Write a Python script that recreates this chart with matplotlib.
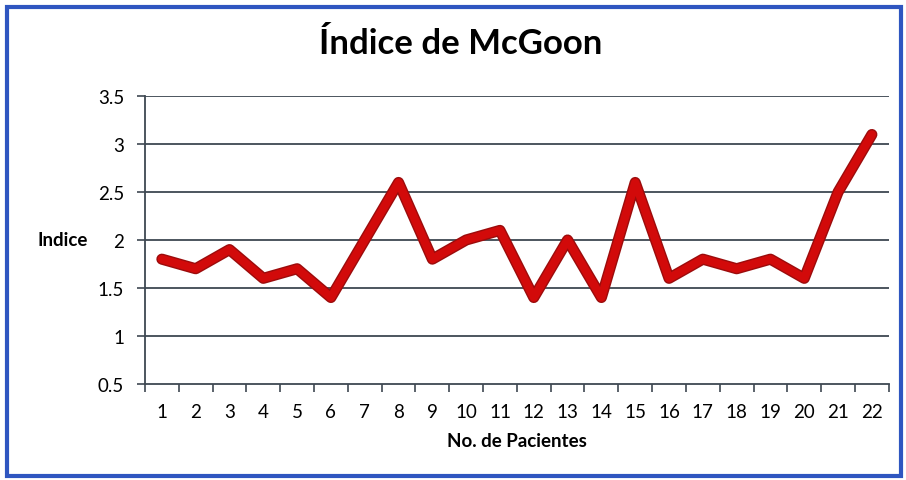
import matplotlib.pyplot as plt
import matplotlib.patheffects as pe
from matplotlib.patches import Rectangle

pacientes = list(range(1, 23))
indice = [1.8, 1.7, 1.9, 1.6, 1.7, 1.4, 2.0, 2.6, 1.8, 2.0, 2.1,
          1.4, 2.0, 1.4, 2.6, 1.6, 1.8, 1.7, 1.8, 1.6, 2.5, 3.1]
y_ticks = [0.5, 1, 1.5, 2, 2.5, 3, 3.5]
y_labels = ['0.5', '1', '1.5', '2', '2.5', '3', '3.5']

plt.rcParams['font.family'] = ['Lato', 'DejaVu Sans']

fig = plt.figure(figsize=(9.06, 4.81), dpi=100)
fig.patch.set_facecolor('white')
ax = fig.add_axes([0.160, 0.200, 0.821, 0.598])

for y in y_ticks[1:]:
    ax.axhline(y, color='#3e4852', lw=1.3, zorder=1)

ax.plot(pacientes, indice, color='#d20a0a', lw=6, solid_joinstyle='round',
        solid_capstyle='round', zorder=3,
        path_effects=[pe.Stroke(linewidth=8, foreground='#9c0c0c'), pe.Normal()])

ax.set_xlim(0.5, 22.5)
ax.set_ylim(0.5, 3.5)
ax.set_yticks(y_ticks)
ax.set_yticklabels(y_labels, fontsize=13.5)
ax.set_xticks([i + 0.5 for i in range(0, 23)])
ax.set_xticklabels([])
ax.set_xticks(pacientes, minor=True)
ax.set_xticklabels([str(p) for p in pacientes], minor=True, fontsize=13.5)
ax.tick_params(axis='x', which='major', length=6, width=1.2, color='#3e4852', direction='out')
ax.tick_params(axis='x', which='minor', length=0, pad=14)
ax.tick_params(axis='y', length=6, width=1.2, color='#3e4852', pad=9)

for s in ['top', 'right']:
    ax.spines[s].set_visible(False)
for s in ['left', 'bottom']:
    ax.spines[s].set_color('#3e4852')
    ax.spines[s].set_linewidth(1.3)

fig.text(0.508, 0.908, 'Índice de McGoon', ha='center', va='center',
         fontsize=25, fontweight='bold')
fig.text(0.069, 0.500, 'Indice', ha='center', va='center', fontsize=13.5, fontweight='bold')
fig.text(0.571, 0.083, 'No. de Pacientes', ha='center', va='center',
         fontsize=13.5, fontweight='bold')

fig.patches.append(Rectangle((0.008, 0.008), 0.986, 0.976, transform=fig.transFigure,
                             fill=False, edgecolor='#2f56c0', lw=3))

fig.savefig('out.png', dpi=100)
